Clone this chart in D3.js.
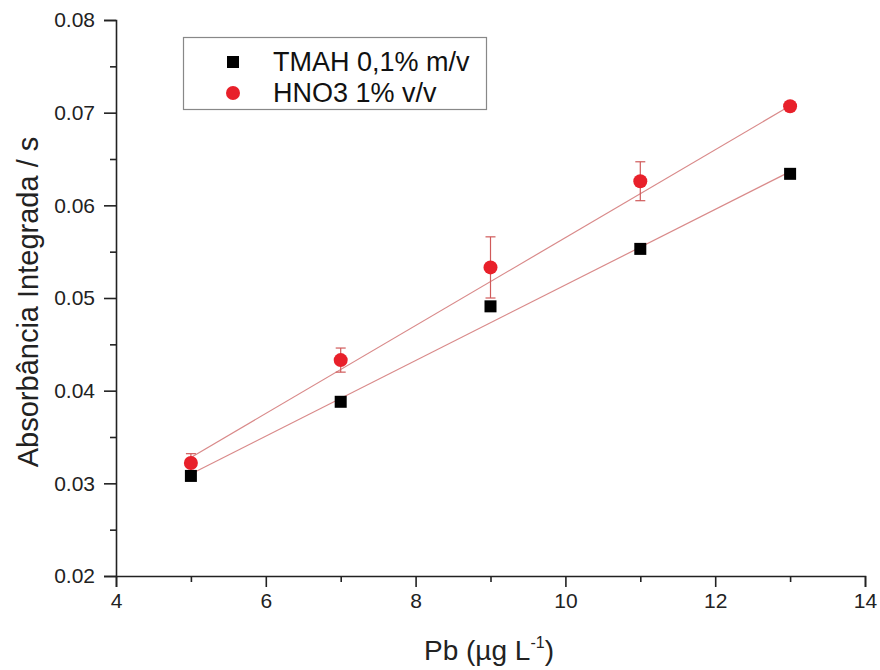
<!DOCTYPE html>
<html>
<head>
<meta charset="utf-8">
<script src="https://cdn.jsdelivr.net/npm/d3@7"></script>
<style>
  body { margin: 0; background: #fff; }
  svg { font-family: "Liberation Sans", Arial, sans-serif; }
</style>
</head>
<body>
<svg id="chart" width="880" height="670"></svg>
<script>
// data
const pbConc = [5, 7, 9, 11, 13];
const tmahValues = [0.0308, 0.0388, 0.0491, 0.0553, 0.0634];
const tmahErrors = [0.0003, 0.0002, 0.0003, 0.0003, 0.0002];
const hno3Values = [0.0322, 0.0433, 0.0533, 0.0626, 0.0707];
const hno3Errors = [0.0010, 0.0013, 0.0033, 0.0021, 0.0003];
const xTicks = [4, 6, 8, 10, 12, 14];
const yTicks = [0.02, 0.03, 0.04, 0.05, 0.06, 0.07, 0.08];
const legendLabels = ['TMAH 0,1% m/v', 'HNO3 1% v/v'];

const svg = d3.select('#chart');
const margin = { left: 116, right: 15, top: 20, bottom: 94 };
const width = 880, height = 670;

const x = d3.scaleLinear().domain([4, 14]).range([margin.left, width - margin.right]);
const y = d3.scaleLinear().domain([0.02, 0.08]).range([height - margin.bottom, margin.top]);

const axisColor = '#222';

// weighted least squares fit (weights 1/err^2)
function fit(xs, ys, errs) {
    const w = errs.map(e => 1 / (e * e));
    const sw = d3.sum(w);
    const mx = d3.sum(xs, (v, i) => w[i] * v) / sw;
    const my = d3.sum(ys, (v, i) => w[i] * v) / sw;
    let num = 0, den = 0;
    xs.forEach((v, i) => { num += w[i] * (v - mx) * (ys[i] - my); den += w[i] * (v - mx) * (v - mx); });
    const b = num / den;
    return { a: my - b * mx, b };
}

// x axis
svg.append('g')
    .attr('transform', `translate(0,${y(0.02)})`)
    .call(d3.axisBottom(x).tickValues(xTicks).tickSize(11).tickPadding(6).tickFormat(d3.format('d')));
svg.append('g')
    .attr('transform', `translate(0,${y(0.02)})`)
    .call(d3.axisBottom(x).tickValues(d3.range(5, 14, 2)).tickSize(6).tickFormat(''))
    .select('.domain').remove();

// y axis
svg.append('g')
    .attr('transform', `translate(${x(4)},0)`)
    .call(d3.axisLeft(y).tickValues(yTicks).tickSize(12).tickPadding(9).tickFormat(d3.format('.2f')));
svg.append('g')
    .attr('transform', `translate(${x(4)},0)`)
    .call(d3.axisLeft(y).tickValues(d3.range(0.025, 0.08, 0.01)).tickSize(6).tickFormat(''))
    .select('.domain').remove();

svg.selectAll('.domain').attr('stroke', axisColor).attr('stroke-width', 1.6);
svg.selectAll('.tick line').attr('stroke', axisColor).attr('stroke-width', 1.6);
svg.selectAll('.tick text').attr('font-size', 21).attr('fill', '#222');

// axis titles
svg.append('text')
    .attr('transform', `translate(38,302) rotate(-90)`)
    .attr('text-anchor', 'middle')
    .attr('font-size', 29)
    .attr('fill', '#222')
    .text('Absorbância Integrada / s');

const xt = svg.append('text')
    .attr('x', 489).attr('y', 660)
    .attr('text-anchor', 'middle')
    .attr('font-size', 28)
    .attr('fill', '#222');
xt.append('tspan').text('Pb (µg L');
xt.append('tspan').attr('font-size', 16).attr('dy', -12).text('-1');
xt.append('tspan').attr('dy', 12).text(')');

// fit lines
const fitColor = '#d98a8a';
[[tmahValues, tmahErrors], [hno3Values, hno3Errors]].forEach(([vals, errs]) => {
    const f = fit(pbConc, vals, errs);
    const x0 = d3.min(pbConc), x1 = d3.max(pbConc);
    svg.append('line')
        .attr('x1', x(x0)).attr('y1', y(f.a + f.b * x0))
        .attr('x2', x(x1)).attr('y2', y(f.a + f.b * x1))
        .attr('stroke', fitColor).attr('stroke-width', 1.2);
});

// error bars
function errorBars(vals, errs, color) {
    const g = svg.append('g').attr('stroke', color).attr('stroke-width', 1.2);
    pbConc.forEach((c, i) => {
        const cx = x(c), yt = y(vals[i] + errs[i]), yb = y(vals[i] - errs[i]);
        g.append('line').attr('x1', cx).attr('x2', cx).attr('y1', yt).attr('y2', yb);
        g.append('line').attr('x1', cx - 5).attr('x2', cx + 5).attr('y1', yt).attr('y2', yt);
        g.append('line').attr('x1', cx - 5).attr('x2', cx + 5).attr('y1', yb).attr('y2', yb);
    });
}
errorBars(tmahValues, tmahErrors, '#333');
errorBars(hno3Values, hno3Errors, '#d05a5a');

// points
const sq = 12;
svg.append('g').selectAll('rect')
    .data(pbConc)
    .join('rect')
    .attr('x', (d) => x(d) - sq / 2)
    .attr('y', (d, i) => y(tmahValues[i]) - sq / 2)
    .attr('width', sq).attr('height', sq)
    .attr('fill', '#000');

svg.append('g').selectAll('circle')
    .data(pbConc)
    .join('circle')
    .attr('cx', (d) => x(d))
    .attr('cy', (d, i) => y(hno3Values[i]))
    .attr('r', 7)
    .attr('fill', '#e8202a');

// legend
const legend = svg.append('g');
legend.append('rect')
    .attr('x', 183.5).attr('y', 37.5).attr('width', 303).attr('height', 72)
    .attr('fill', '#fff').attr('stroke', '#888').attr('stroke-width', 1.2);
legend.append('rect').attr('x', 233 - 6).attr('y', 62 - 6).attr('width', 12).attr('height', 12).attr('fill', '#000');
legend.append('circle').attr('cx', 233).attr('cy', 93).attr('r', 7).attr('fill', '#e8202a');
legend.selectAll('text.lg')
    .data(legendLabels)
    .join('text')
    .attr('class', 'lg')
    .attr('x', 273)
    .attr('y', (d, i) => 62 + i * 31)
    .attr('dy', '0.35em')
    .attr('font-size', 27)
    .attr('fill', '#111')
    .text(d => d);
</script>
</body>
</html>
